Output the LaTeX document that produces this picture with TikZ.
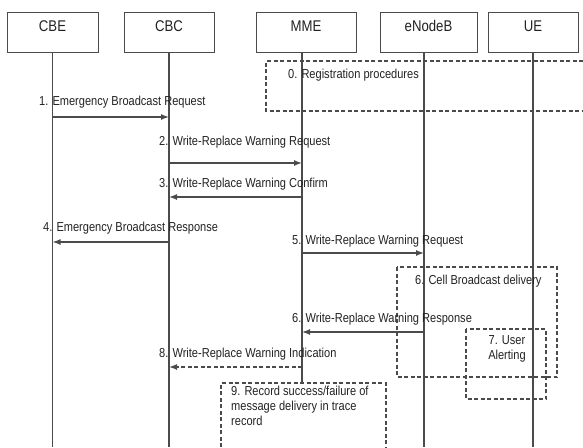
\documentclass[tikz,border=0pt]{standalone}
\usepackage{fontspec}
\setmainfont{Liberation Sans}[FakeStretch=0.85]
\usetikzlibrary{arrows.meta}
\definecolor{linec}{RGB}{75,75,75}
\definecolor{textc}{RGB}{35,35,35}
\begin{document}
\begin{tikzpicture}[x=1pt,y=-1pt,
  actor/.style={draw=linec, line width=1pt, inner xsep=0pt, inner ysep=0pt,
    text height=19pt, text depth=21pt, text=textc, font=\fontsize{15.5}{18}\selectfont},
  life/.style={draw=linec, line width=1.5pt},
  msg/.style={draw=linec, line width=1.4pt, -{Latex[length=8pt,width=6pt]}},
  dmsg/.style={msg, dash pattern=on 4pt off 2.5pt},
  frame/.style={draw=linec, line width=1.1pt, dash pattern=on 4pt off 2.5pt},
  lbl/.style={anchor=base west, inner sep=0pt, font=\fontsize{13}{15}\selectfont, text=textc},
  ctext/.style={inner sep=0pt, font=\fontsize{13}{15}\selectfont, text=textc}
]
\useasboundingbox[fill=white] (0,0) rectangle (583,447);

% actors
\node[actor, minimum width=91pt] (cbe) at (52.5,32) {CBE};
\node[actor, minimum width=90pt] (cbc) at (169,32) {CBC};
\node[actor, minimum width=100pt] (mme) at (306,32) {MME};
\node[actor, minimum width=97pt] (enb) at (428.5,32) {eNodeB};
\node[actor, minimum width=90pt] (ue) at (533,32) {UE};

% lifeline anchors
\coordinate (lcbe) at (cbe.south);
\coordinate (lcbc) at (cbc.south);
\coordinate (lmme) at ([xshift=-4pt]mme.south);
\coordinate (lenb) at ([xshift=-4.5pt]enb.south);
\coordinate (lue) at (ue.south);
\coordinate (bottom) at (0,447);
\coordinate (b9) at (221,383);

% lifelines
\draw[life] (lcbe) -- (lcbe |- bottom);
\draw[life] (lcbc) -- (lcbc |- bottom);
\draw[life] (lmme) -- (lmme |- b9);
\draw[life] (lenb) -- (lenb |- bottom);
\draw[life] (lue) -- (lue |- bottom);

% frames
\draw[frame] (583,61) -| (266,111) -- (583,111);
\draw[frame] (397,267) rectangle (557,377);
\draw[frame] (466,329) rectangle (546,399);
\draw[frame] (221,447) |- (386,383) -- (386,447);

% message levels
\coordinate (y1) at (0,117);
\coordinate (y2) at (0,163);
\coordinate (y3) at (0,197);
\coordinate (y4) at (0,242);
\coordinate (y5) at (0,253);
\coordinate (y6) at (0,332);
\coordinate (y8) at (0,367);

\draw[msg] (lcbe |- y1) -- (lcbc |- y1);
\draw[msg] (lcbc |- y2) -- (lmme |- y2);
\draw[msg] (lmme |- y3) -- (lcbc |- y3);
\draw[msg] (lcbc |- y4) -- (lcbe |- y4);
\draw[msg] (lmme |- y5) -- (lenb |- y5);
\draw[msg] (lenb |- y6) -- (lmme |- y6);
\draw[dmsg] (lmme |- y8) -- (lcbc |- y8);

% labels
\node[lbl] (t0) at (288,78.5) {0. Registration procedures};
\node[lbl] (t1) at (39,105.5) {1. Emergency Broadcast Request};
\node[lbl] (t2) at (159,145.5) {2. Write-Replace Warning Request};
\node[lbl] (t3) at (159,187.5) {3. Write-Replace Warning Confirm};
\node[lbl] (t4) at (43,231.5) {4. Emergency Broadcast Response};
\node[lbl] (t5) at (292,244.5) {5. Write-Replace Warning Request};
\node[lbl] (t6a) at (415,284.5) {6. Cell Broadcast delivery};
\node[lbl] (t6b) at (292,322.5) {6. Write-Replace Warning Response};
\node[lbl] (t8) at (159,357.5) {8. Write-Replace Warning Indication};
\node[ctext, align=center] (t7) at (507,349) {7. User\\Alerting};
\node[ctext, align=left, anchor=north west] (t9) at (231,386) {9. Record success/failure of\\message delivery in trace\\record};
\end{tikzpicture}
\end{document}
